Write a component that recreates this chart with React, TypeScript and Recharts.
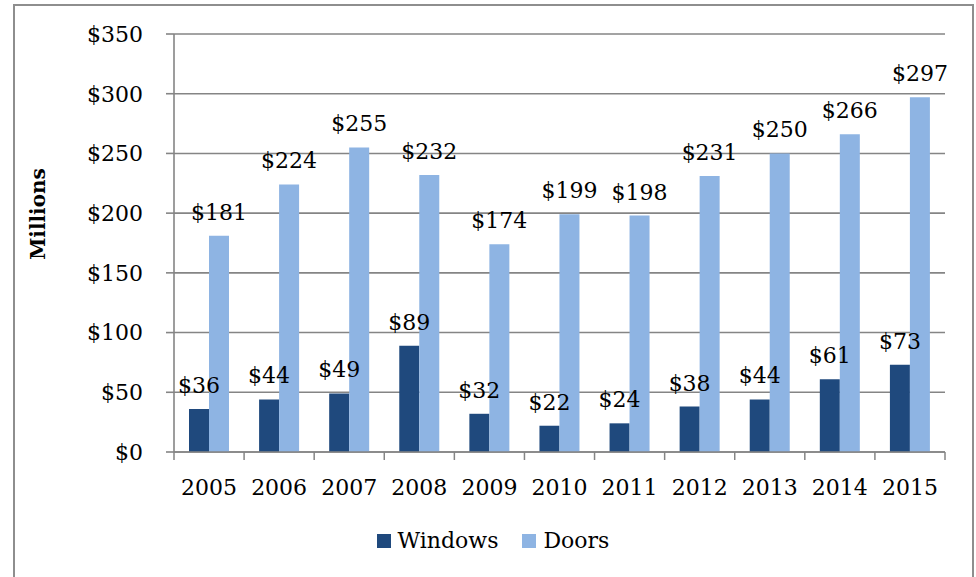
import { BarChart, Bar, XAxis, YAxis, CartesianGrid, Legend, LabelList } from 'recharts';

const years = ['2005', '2006', '2007', '2008', '2009', '2010', '2011', '2012', '2013', '2014', '2015'];
const windows = [36, 44, 49, 89, 32, 22, 24, 38, 44, 61, 73];
const doors = [181, 224, 255, 232, 174, 199, 198, 231, 250, 266, 297];
const yTicks = [0, 50, 100, 150, 200, 250, 300, 350];

const rows = years.map((year, i) => ({ year, windows: windows[i], doors: doors[i] }));

const FONT = '"DejaVu Serif", serif';
const GRID = '#858585';
const DARK = '#1f497d';
const LIGHT = '#8eb4e3';
const TICK_SIZE = 8;
const X_TICK_MARGIN = 19;

const money = (v: number) => `$${v}`;

// year label plus tick marks between categories (Excel style)
function YearTick(props: any) {
  const { x, y, payload, index, visibleTicksCount } = props;
  const half = payload.offset ?? 35;
  const axisY = y - TICK_SIZE - X_TICK_MARGIN;
  const last = index === visibleTicksCount - 1;
  return (
    <g>
      <line x1={x - half} x2={x - half} y1={axisY} y2={axisY + TICK_SIZE} stroke={GRID} strokeWidth={1.5} />
      {last && (
        <line x1={x + half} x2={x + half} y1={axisY} y2={axisY + TICK_SIZE} stroke={GRID} strokeWidth={1.5} />
      )}
      <text x={x} y={y} dy="0.71em" textAnchor="middle" fill="#000" fontSize={22} fontFamily={FONT}>
        {payload.value}
      </text>
    </g>
  );
}

function LegendBox() {
  const items = [
    { name: 'Windows', color: DARK },
    { name: 'Doors', color: LIGHT },
  ];
  return (
    <div style={{ display: 'flex', justifyContent: 'center', alignItems: 'center', gap: 24 }}>
      {items.map((it) => (
        <div key={it.name} style={{ display: 'flex', alignItems: 'center' }}>
          <span style={{ display: 'inline-block', width: 14, height: 14, background: it.color, marginRight: 7 }} />
          <span style={{ fontFamily: FONT, fontSize: 22, color: '#000' }}>{it.name}</span>
        </div>
      ))}
    </div>
  );
}

export default function App() {
  return (
    <div style={{ position: 'absolute', left: 0, top: 0, width: 976, height: 577, background: '#fff', overflow: 'hidden' }}>
      <div
        style={{
          position: 'absolute',
          left: 13,
          top: 4,
          width: 961,
          height: 640,
          border: '2px solid #8e8e8e',
          boxSizing: 'border-box',
        }}
      />
      <div
        style={{
          position: 'absolute',
          left: 38,
          top: 214,
          transform: 'translate(-50%, -50%) rotate(-90deg)',
          fontFamily: FONT,
          fontWeight: 'bold',
          fontSize: 20,
          whiteSpace: 'nowrap',
        }}
      >
        Millions
      </div>
      <BarChart
        width={976}
        height={577}
        data={rows}
        margin={{ top: 34, right: 31, bottom: 65, left: 0 }}
        barSize={20}
        barGap={0}
      >
        <CartesianGrid vertical={false} stroke={GRID} strokeWidth={1.6} />
        <XAxis
          dataKey="year"
          height={60}
          axisLine={{ stroke: GRID, strokeWidth: 1.6 }}
          tickLine={false}
          tickSize={TICK_SIZE}
          tickMargin={X_TICK_MARGIN}
          interval={0}
          tick={<YearTick />}
        />
        <YAxis
          width={174}
          domain={[0, 350]}
          ticks={yTicks}
          tickFormatter={money}
          axisLine={{ stroke: GRID, strokeWidth: 1.6 }}
          tickLine={{ stroke: GRID, strokeWidth: 1.6 }}
          tickSize={TICK_SIZE}
          tickMargin={23}
          tick={{ fill: '#000', fontSize: 22, fontFamily: FONT }}
        />
        <Legend
          verticalAlign="middle"
          align="center"
          layout="horizontal"
          wrapperStyle={{ top: 528, left: 18, width: 950 }}
          content={<LegendBox />}
        />
        <Bar dataKey="windows" name="Windows" fill={DARK} isAnimationActive={false}>
          <LabelList dataKey="windows" position="top" offset={16} formatter={money} fill="#000" fontSize={22} fontFamily={FONT} />
        </Bar>
        <Bar dataKey="doors" name="Doors" fill={LIGHT} isAnimationActive={false}>
          <LabelList dataKey="doors" position="top" offset={16} formatter={money} fill="#000" fontSize={22} fontFamily={FONT} />
        </Bar>
      </BarChart>
    </div>
  );
}
